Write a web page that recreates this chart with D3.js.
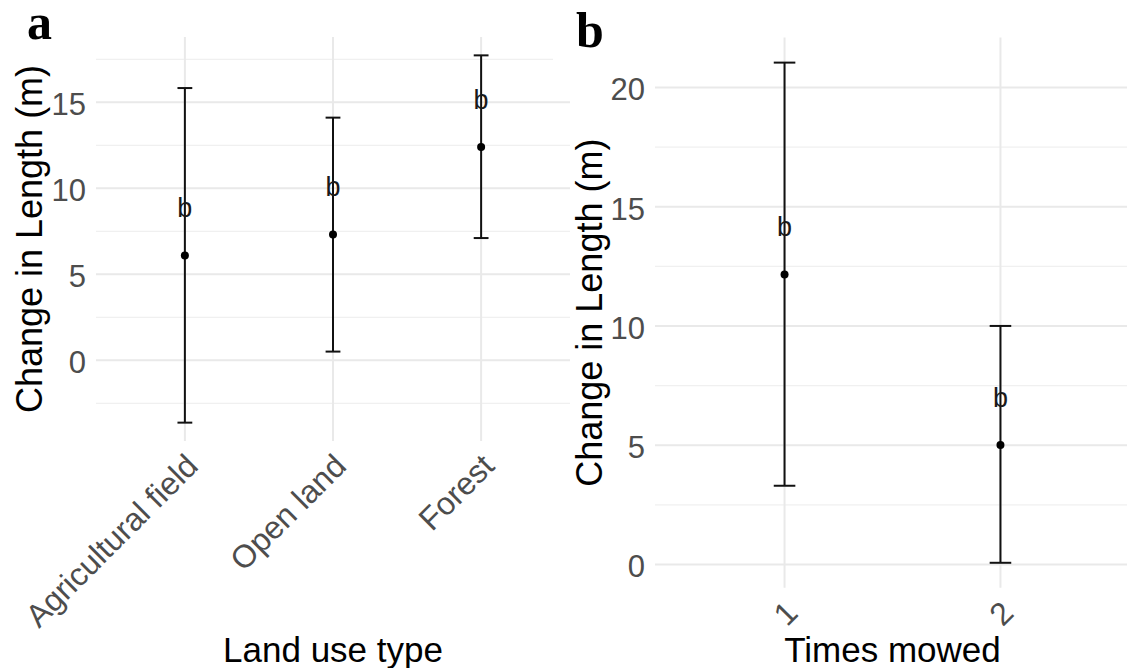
<!DOCTYPE html>
<html lang="en">
<head>
<meta charset="UTF-8">
<script src="https://d3js.org/d3.v7.min.js"></script>
<title>Change in length by land use and mowing</title>
<style>
    body { margin: 0; background: #fff; }
    text { font-family: "Liberation Sans", Arial, sans-serif; }
    text.panel { font-family: "Liberation Serif", "Times New Roman", serif; font-weight: bold; }
</style>
</head>
<body>
<div id="chart"></div>
<script>
    // panel a: land use type
    const landUse = ["Agricultural field", "Open land", "Forest"];
    const landMean = [6.10, 7.32, 12.40];
    const landLower = [-3.62, 0.51, 7.11];
    const landUpper = [15.83, 14.11, 17.73];
    const landLetters = ["b", "b", "b"];
    const landTicks = [0, 5, 10, 15];
    const landMinor = [-2.5, 2.5, 7.5, 12.5, 17.5];

    // panel b: times mowed
    const mowed = ["1", "2"];
    const mowMean = [12.16, 5.01];
    const mowLower = [3.30, 0.07];
    const mowUpper = [21.04, 10.00];
    const mowLetters = ["b", "b"];
    const mowTicks = [0, 5, 10, 15, 20];
    const mowMinor = [2.5, 7.5, 12.5, 17.5];

    const width = 1127, height = 668;

    const svg = d3.select("#chart").append("svg")
        .attr("width", width).attr("height", height);

    function drawPanel(cfg) {
        const g = svg.append("g");

        // ggplot style 5% expansion on the continuous axis
        const lo = d3.min(cfg.lower), hi = d3.max(cfg.upper);
        const pad = (hi - lo) * 0.05;
        const y = d3.scaleLinear().domain([lo - pad, hi + pad]).range([cfg.bottom, cfg.top]);
        const x = d3.scalePoint().domain(cfg.cats).range([cfg.left, cfg.right]).padding(0.6);
        const step = x.step();

        // grid
        g.selectAll(".minor").data(cfg.minor).join("line")
            .attr("x1", cfg.left).attr("x2", cfg.right)
            .attr("y1", d => y(d)).attr("y2", d => y(d))
            .attr("stroke", "#f0f0f0").attr("stroke-width", 1.3);
        g.selectAll(".major").data(cfg.ticks).join("line")
            .attr("x1", cfg.left).attr("x2", cfg.right)
            .attr("y1", d => y(d)).attr("y2", d => y(d))
            .attr("stroke", "#e9e9e9").attr("stroke-width", 2);
        g.selectAll(".vgrid").data(cfg.cats).join("line")
            .attr("x1", d => x(d)).attr("x2", d => x(d))
            .attr("y1", cfg.top).attr("y2", cfg.bottom)
            .attr("stroke", "#e9e9e9").attr("stroke-width", 2);

        // y tick labels
        g.selectAll(".ytick").data(cfg.ticks).join("text")
            .attr("x", cfg.left - 10).attr("y", d => y(d))
            .attr("dy", "0.42em")
            .attr("text-anchor", "end")
            .attr("font-size", 31).attr("fill", "#4d4d4d")
            .text(d => d);

        // x tick labels, rotated 45 degrees
        g.selectAll(".xtick").data(cfg.cats).join("text")
            .attr("transform", d => "translate(" + (x(d) + 15) + "," + (cfg.bottom + 27) + ") rotate(-45)")
            .attr("text-anchor", "end")
            .attr("font-size", 32).attr("fill", "#4d4d4d")
            .text(d => d);

        // error bars
        const rows = cfg.cats.map((c, i) => ({cat: c, mean: cfg.mean[i], lower: cfg.lower[i], upper: cfg.upper[i], letter: cfg.letters[i]}));
        const capW = step * 0.1;
        const bars = g.selectAll(".bar").data(rows).join("g");
        bars.append("line")
            .attr("x1", d => x(d.cat)).attr("x2", d => x(d.cat))
            .attr("y1", d => y(d.lower)).attr("y2", d => y(d.upper))
            .attr("stroke", "#111").attr("stroke-width", 2);
        bars.append("line")
            .attr("x1", d => x(d.cat) - capW / 2).attr("x2", d => x(d.cat) + capW / 2)
            .attr("y1", d => y(d.upper)).attr("y2", d => y(d.upper))
            .attr("stroke", "#111").attr("stroke-width", 2);
        bars.append("line")
            .attr("x1", d => x(d.cat) - capW / 2).attr("x2", d => x(d.cat) + capW / 2)
            .attr("y1", d => y(d.lower)).attr("y2", d => y(d.lower))
            .attr("stroke", "#111").attr("stroke-width", 2);
        bars.append("circle")
            .attr("cx", d => x(d.cat)).attr("cy", d => y(d.mean))
            .attr("r", 4).attr("fill", "#000");
        bars.append("text")
            .attr("x", d => x(d.cat)).attr("y", d => y(d.mean) - 38)
            .attr("text-anchor", "middle")
            .attr("font-size", 27).attr("fill", "#1a1a1a")
            .text(d => d.letter);

        // axis titles
        g.append("text")
            .attr("transform", "translate(" + cfg.ytitleX + "," + ((cfg.top + cfg.bottom) / 2) + ") rotate(-90)")
            .attr("text-anchor", "middle")
            .attr("font-size", 36).attr("fill", "#000")
            .text("Change in Length (m)");
        g.append("text")
            .attr("x", (cfg.left + cfg.right) / 2).attr("y", 662)
            .attr("text-anchor", "middle")
            .attr("font-size", 35).attr("fill", "#000")
            .text(cfg.xtitle);
    }

    drawPanel({
        cats: landUse, mean: landMean, lower: landLower, upper: landUpper, letters: landLetters,
        ticks: landTicks, minor: landMinor,
        left: 96, right: 570, top: 37, bottom: 441,
        ytitleX: 42, xtitle: "Land use type"
    });

    drawPanel({
        cats: mowed, mean: mowMean, lower: mowLower, upper: mowUpper, letters: mowLetters,
        ticks: mowTicks, minor: mowMinor,
        left: 655, right: 1130, top: 37.6, bottom: 587.8,
        ytitleX: 602, xtitle: "Times mowed"
    });

    // panel letters (the b sits on a white patch over panel a's grid)
    svg.append("rect").attr("x", 553).attr("y", 0).attr("width", 70).attr("height", 72).attr("fill", "#fff");
    svg.append("text").attr("class", "panel").attr("x", 27).attr("y", 39)
        .attr("font-size", 50).text("a");
    svg.append("text").attr("class", "panel").attr("x", 576).attr("y", 47)
        .attr("font-size", 50).text("b");
</script>
</body>
</html>
